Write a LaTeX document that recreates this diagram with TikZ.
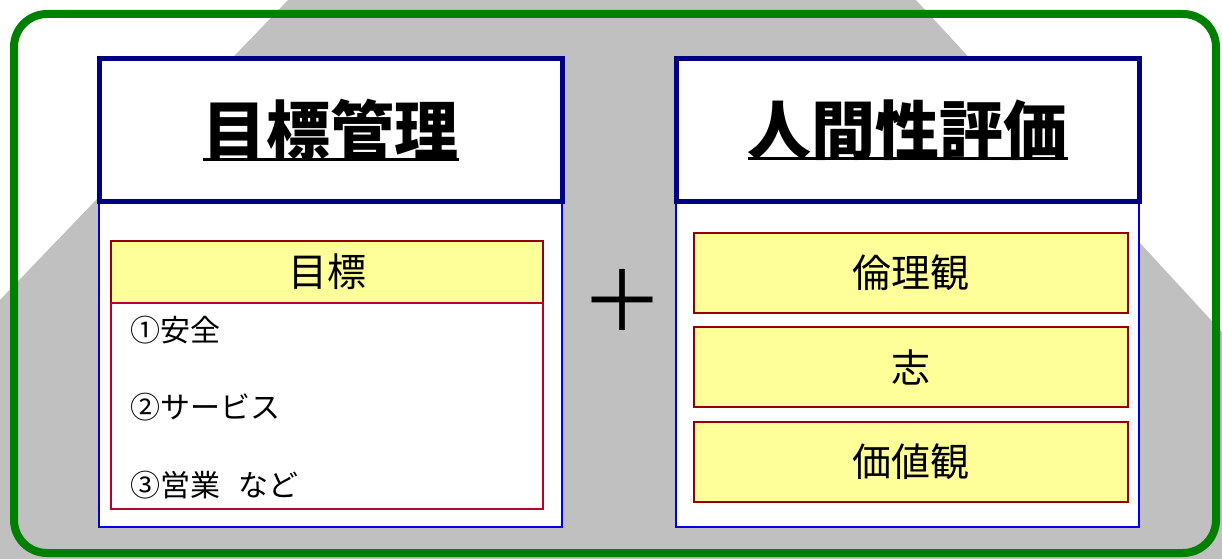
\documentclass[tikz,border=0pt]{standalone}
\usepackage{fontspec}
\setmainfont{Noto Sans CJK JP}
\definecolor{graybg}{RGB}{192,192,192}
\definecolor{frame}{RGB}{0,128,0}
\definecolor{navy}{RGB}{0,0,128}
\definecolor{bodyblue}{RGB}{0,0,230}
\definecolor{boxyellow}{RGB}{255,255,153}
\definecolor{boxred}{RGB}{150,0,0}
\definecolor{listred}{RGB}{185,0,45}
\newcommand\myul[1]{\setbox0\hbox{#1}\rlap{\rule[-6pt]{\wd0}{3pt}}\box0}
\begin{document}
\begin{tikzpicture}[x=1pt,y=-1pt,
  bodybox/.style={draw=bodyblue, line width=1.5, fill=white, minimum width=463, minimum height=326, inner sep=0},
  headbox/.style={draw=navy, line width=5, fill=white, minimum width=463, minimum height=142, inner sep=0, font=\fontsize{64}{72}\selectfont\bfseries},
  ybox/.style={draw=boxred, line width=2, fill=boxyellow, inner sep=0, font=\fontsize{39}{44}\selectfont},
  listbox/.style={draw=listred, line width=2, fill=white, minimum width=432, minimum height=206, inner sep=0},
  item/.style={anchor=west, inner sep=0, font=\fontsize{30}{34}\selectfont}
]
\useasboundingbox (0,0) rectangle (1222,559);
\fill[white] (0,0) rectangle (1222,559);
\fill[graybg] (0,300) -- (288,0) -- (916,0) -- (1222,332) -- (1222,559) -- (0,559) -- cycle;
\draw[frame, line width=8, rounded corners=33] (14,14) rectangle (1216,553);

% left column
\node[bodybox] (lbody) at (330.5,364) {};
\node[headbox] (lhead) at (330.5,130) {\myul{目標管理}};
\node[ybox, minimum width=432, minimum height=62] (goal) at (327,272) {目標};
\node[listbox] (list) at (327,406) {};
\node[item] (i1) at (130,330) {①安全};
\node[item] (i2) at (130,407) {②サービス};
\node[item] (i3) at (130,485) {③営業\hspace{0.6em}など};

% plus
\node[inner sep=0, font=\fontsize{84}{90}\selectfont] (plus) at (622,300) {＋};

% right column
\node[bodybox] (rbody) at (907.5,364) {};
\node[headbox] (rhead) at (907.5,130) {\myul{人間性評価}};
\node[ybox, minimum width=434, minimum height=80] (r1) at (911,273) {倫理観};
\node[ybox, minimum width=434, minimum height=80] (r2) at (911,367) {志};
\node[ybox, minimum width=434, minimum height=80] (r3) at (911,462) {価値観};
\end{tikzpicture}
\end{document}
